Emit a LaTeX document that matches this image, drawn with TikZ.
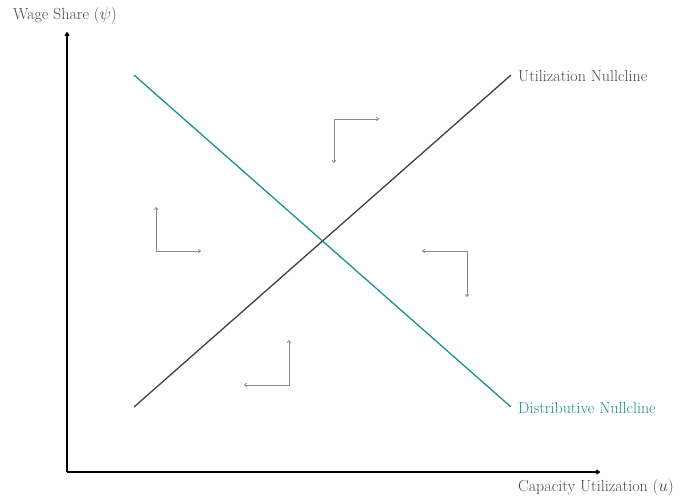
\documentclass[tikz,border=0pt]{standalone}
\usetikzlibrary{arrows.meta}
\definecolor{teal1}{HTML}{1A9090}
\definecolor{txtgray}{HTML}{4A4A4A}
\definecolor{ngray}{HTML}{404040}
\definecolor{agray}{HTML}{8A8A8A}
\begin{document}
\begin{tikzpicture}[x=1pt,y=-1pt,
  lbl/.style={font=\fontsize{16}{18}\selectfont, text=txtgray, inner sep=0pt},
  axis/.style={line width=1.2pt, -{To[length=4pt,width=5pt]}},
  flow/.style={agray, line width=0.7pt, {To[length=3pt,width=4pt]}-{To[length=3pt,width=4pt]}}]
\useasboundingbox (0,0) rectangle (684,499);
\coordinate (O) at (67,472);
\coordinate (Ytop) at (67,32);
\coordinate (Xend) at (600,472);
\draw[axis] (O) -- (Ytop);
\draw[axis] (O) -- (Xend);
\node[lbl,anchor=west] (ylab) at (13,15) {Wage Share ($\psi$)};
\node[lbl,anchor=west] (xlab) at (518,487) {Capacity Utilization ($u$)};
% nullclines
\coordinate (U1) at (134,407);
\coordinate (U2) at (511,75);
\coordinate (D1) at (134,75);
\coordinate (D2) at (511,407);
\draw[ngray, line width=1.3pt] (U1) -- (U2);
\draw[teal1, line width=1.3pt] (D1) -- (D2);
\node[lbl,anchor=west] (ulab) at (518,76) {Utilization Nullcline};
\node[lbl,anchor=west,text=teal1] (dlab) at (518,408) {Distributive Nullcline};
% flow arrows
\coordinate (Ta) at (334,163); \coordinate (Tc) at (334,119); \coordinate (Tb) at (379,119);
\draw[flow] (Ta) -- (Tc) -- (Tb);
\coordinate (La) at (156,207); \coordinate (Lc) at (156,251); \coordinate (Lb) at (201,251);
\draw[flow] (La) -- (Lc) -- (Lb);
\coordinate (Ra) at (422,251); \coordinate (Rc) at (467,251); \coordinate (Rb) at (467,297);
\draw[flow] (Ra) -- (Rc) -- (Rb);
\coordinate (Ba) at (244,385); \coordinate (Bc) at (289,385); \coordinate (Bb) at (289,340);
\draw[flow] (Ba) -- (Bc) -- (Bb);
\end{tikzpicture}
\end{document}
